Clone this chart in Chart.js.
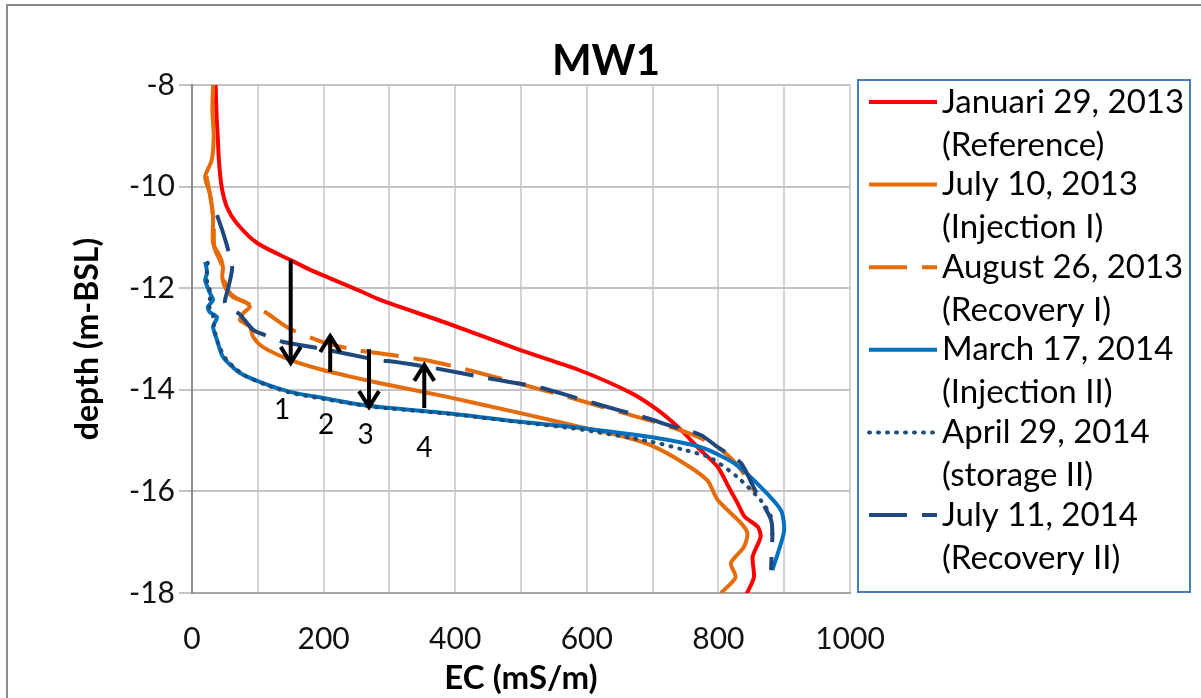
<!DOCTYPE html>
<html>
<head>
<meta charset="utf-8">
<script src="https://cdn.jsdelivr.net/npm/chart.js@4.4.1/dist/chart.umd.min.js"></script>
<style>
  html, body { margin: 0; padding: 0; background: #ffffff; overflow: hidden; }
  #wrap { width: 1201px; height: 698px; }
</style>
</head>
<body>
<div id="wrap"><canvas id="c" width="1201" height="698"></canvas></div>
<script>
// ---------- DATA ----------
const chartTitle = "MW1";
const xAxisTitle = "EC (mS/m)";
const yAxisTitle = "depth (m-BSL)";
const xTickLabels = [0, 200, 400, 600, 800, 1000];
const yTickLabels = [-8, -10, -12, -14, -16, -18];

const seriesNames = [
  ["Januari 29, 2013", "(Reference)"],
  ["July 10, 2013", "(Injection I)"],
  ["August 26, 2013", "(Recovery I)"],
  ["March 17, 2014", "(Injection II)"],
  ["April 29, 2014", "(storage II)"],
  ["July 11, 2014", "(Recovery II)"]
];

// Januari 29, 2013 (Reference)
const ecJan13 = [36, 37, 39, 41, 45, 53, 68, 99, 149, 180, 251, 286, 388, 499, 590, 667, 708, 740, 770, 799, 815, 829, 840, 860, 864, 852, 854, 842];
const depthJan13 = [-8, -8.5, -9, -9.5, -10, -10.4, -10.72, -11.11, -11.44, -11.64, -12.03, -12.23, -12.69, -13.22, -13.62, -14.06, -14.4, -14.75, -15.15, -15.52, -15.9, -16.23, -16.5, -16.7, -16.9, -17.29, -17.69, -18.04];

// July 10, 2013 (Injection I)
const ecJul13 = [32, 31, 33, 30, 20, 27, 32, 32, 43, 47, 46, 50, 62, 81, 88, 78, 73, 88, 93, 108, 149, 199, 251, 286, 388, 499, 590, 650, 697, 747, 783, 799, 834, 844, 839, 819, 826, 804];
const depthJul13 = [-8, -8.5, -9, -9.48, -9.81, -10.13, -10.6, -11.11, -11.39, -11.58, -11.78, -11.98, -12.17, -12.27, -12.37, -12.49, -12.63, -12.76, -12.96, -13.16, -13.41, -13.61, -13.77, -13.87, -14.14, -14.46, -14.73, -14.9, -15.09, -15.44, -15.78, -16.17, -16.62, -16.82, -17.09, -17.41, -17.69, -18.0];

// August 26, 2013 (Recovery I)
const ecAug13 = [22, 28, 33, 34, 44, 48, 55, 68, 88, 111, 149, 199, 251, 301, 352, 408, 489, 571, 651, 708, 760, 799, 830, 855];
const depthAug13 = [-9.8, -10.2, -10.7, -11.2, -11.5, -11.8, -12.05, -12.2, -12.32, -12.47, -12.8, -13.06, -13.22, -13.31, -13.41, -13.57, -13.85, -14.14, -14.44, -14.65, -14.88, -15.13, -15.5, -16.0];

// March 17, 2014 (Injection II)
const ecMar14 = [20, 23, 20, 27, 32, 24, 27, 38, 32, 38, 47, 73, 108, 149, 199, 260, 301, 388, 499, 590, 697, 773, 823, 864, 895, 900, 892, 882];
const depthMar14 = [-11.48, -11.7, -11.84, -12.09, -12.23, -12.37, -12.47, -12.57, -12.76, -13.02, -13.35, -13.67, -13.87, -14.04, -14.16, -14.3, -14.36, -14.46, -14.63, -14.75, -14.93, -15.13, -15.44, -15.91, -16.37, -16.76, -17.15, -17.55];

// April 29, 2014 (storage II)
const ecApr14 = [24, 22, 28, 26, 32, 34, 40, 52, 78, 112, 150, 200, 260, 301, 388, 499, 590, 697, 747, 788, 829, 864, 880, 882];
const depthApr14 = [-11.5, -11.8, -12.1, -12.35, -12.55, -12.8, -13.1, -13.4, -13.7, -13.9, -14.06, -14.18, -14.31, -14.37, -14.47, -14.64, -14.78, -15.02, -15.18, -15.34, -15.72, -16.17, -16.5, -16.85];

// July 11, 2014 (Recovery II)
const ecJul14 = [38, 47, 55, 61, 55, 50, 62, 73, 93, 119, 139, 200, 281, 309, 367, 449, 530, 610, 692, 723, 773, 799, 834, 854, 870, 880, 882, 881, 880];
const depthJul14 = [-10.56, -10.9, -11.25, -11.6, -12.0, -12.29, -12.42, -12.52, -12.82, -12.96, -13.06, -13.2, -13.41, -13.45, -13.57, -13.77, -13.96, -14.26, -14.56, -14.69, -14.89, -15.13, -15.44, -15.93, -16.3, -16.56, -16.82, -17.2, -17.55];

// Annotations: arrows (EC position, tail depth, head depth) and numbered labels
const arrowEC = [150, 210, 269, 353];
const arrowTail = [-11.44, -13.65, -13.2, -14.36];
const arrowHead = [-13.47, -12.94, -14.34, -13.51];
const noteText = ["1", "2", "3", "4"];
const noteEC = [137, 204, 264, 353];
const noteDepth = [-14.4, -14.69, -14.89, -15.15];

// ---------- BUILD ----------
const FONT = "Lato, 'Open Sans', 'Liberation Sans', sans-serif";
function pts(xs, ys) { return xs.map((x, i) => ({ x: x, y: ys[i] })); }

const styles = [
  { color: '#FF0000', dash: [], width: 4, cap: 'butt' },
  { color: '#E46C0A', dash: [], width: 4, cap: 'butt' },
  { color: '#E46C0A', dash: [38, 15], width: 4, cap: 'butt' },
  { color: '#0070C0', dash: [], width: 4, cap: 'butt' },
  { color: '#1F4E79', dash: [1, 8], width: 4, cap: 'round' },
  { color: '#1F497D', dash: [38, 15], width: 4, cap: 'butt' }
];
const seriesData = [
  pts(ecJan13, depthJan13), pts(ecJul13, depthJul13), pts(ecAug13, depthAug13),
  pts(ecMar14, depthMar14), pts(ecApr14, depthApr14), pts(ecJul14, depthJul14)
];

const datasets = seriesData.map((d, i) => ({
  label: seriesNames[i].join(' '),
  data: d,
  showLine: true,
  borderColor: styles[i].color,
  backgroundColor: styles[i].color,
  borderWidth: styles[i].width,
  borderDash: styles[i].dash,
  borderCapStyle: styles[i].cap,
  pointRadius: 0,
  pointHoverRadius: 0,
  tension: 0.25,
  fill: false,
  order: seriesData.length - i
}));

const framePlugin = {
  id: 'frame',
  beforeDraw(chart) {
    const ctx = chart.ctx;
    ctx.save();
    ctx.fillStyle = '#ffffff';
    ctx.fillRect(0, 0, chart.width, chart.height);
    ctx.strokeStyle = '#8c8c8c';
    ctx.lineWidth = 2;
    ctx.beginPath();
    ctx.moveTo(7, chart.height + 5);
    ctx.lineTo(7, 5);
    ctx.lineTo(chart.width + 5, 5);
    ctx.stroke();
    // title
    ctx.fillStyle = '#000000';
    ctx.font = "bold 42px " + FONT;
    ctx.textAlign = 'center';
    ctx.textBaseline = 'middle';
    ctx.fillText(chartTitle, 606, 61);
    ctx.restore();
  }
};

const notesPlugin = {
  id: 'notes',
  afterDatasetsDraw(chart) {
    const ctx = chart.ctx;
    const xs = chart.scales.x, ys = chart.scales.y;
    ctx.save();
    ctx.strokeStyle = '#000000';
    ctx.lineWidth = 4;
    ctx.lineCap = 'butt';
    ctx.lineJoin = 'miter';
    for (let i = 0; i < arrowEC.length; i++) {
      const px = xs.getPixelForValue(arrowEC[i]);
      const y0 = ys.getPixelForValue(arrowTail[i]);
      const y1 = ys.getPixelForValue(arrowHead[i]);
      const dir = y1 > y0 ? 1 : -1;
      ctx.beginPath();
      ctx.moveTo(px, y0);
      ctx.lineTo(px, y1);
      ctx.stroke();
      ctx.beginPath();
      ctx.moveTo(px - 10, y1 - dir * 16);
      ctx.lineTo(px, y1);
      ctx.lineTo(px + 10, y1 - dir * 16);
      ctx.stroke();
    }
    ctx.fillStyle = '#000000';
    ctx.font = "28px " + FONT;
    ctx.textAlign = 'center';
    ctx.textBaseline = 'middle';
    for (let i = 0; i < noteText.length; i++) {
      ctx.fillText(noteText[i], xs.getPixelForValue(noteEC[i]), ys.getPixelForValue(noteDepth[i]));
    }
    ctx.restore();
  }
};

const legendPlugin = {
  id: 'customLegend',
  afterDraw(chart) {
    const ctx = chart.ctx;
    ctx.save();
    ctx.strokeStyle = '#4A7EBB';
    ctx.lineWidth = 2;
    ctx.strokeRect(858, 80, 332, 512);
    const ds = chart.data.datasets;
    for (let i = 0; i < ds.length; i++) {
      const y = 102 + i * 82.6;
      ctx.strokeStyle = ds[i].borderColor;
      ctx.lineWidth = ds[i].borderWidth;
      ctx.lineCap = ds[i].borderCapStyle || 'butt';
      ctx.setLineDash(ds[i].borderDash || []);
      ctx.beginPath();
      ctx.moveTo(869, y);
      ctx.lineTo(937, y);
      ctx.stroke();
      ctx.setLineDash([]);
      ctx.fillStyle = '#000000';
      ctx.font = "33px " + FONT;
      ctx.textAlign = 'left';
      ctx.textBaseline = 'middle';
      ctx.fillText(seriesNames[i][0], 942, y);
      ctx.fillText(seriesNames[i][1], 942, y + 43);
    }
    ctx.restore();
  }
};

new Chart(document.getElementById('c'), {
  type: 'scatter',
  data: { datasets: datasets },
  plugins: [framePlugin, notesPlugin, legendPlugin],
  options: {
    responsive: false,
    animation: false,
    devicePixelRatio: 1,
    layout: { padding: { left: 68, top: 85, right: 351, bottom: 0 } },
    plugins: { legend: { display: false }, title: { display: false }, tooltip: { enabled: false } },
    scales: {
      x: {
        type: 'linear',
        min: 0, max: 1000,
        afterFit(s) { s.height = 105; },
        ticks: {
          stepSize: 100,
          autoSkip: false,
          maxRotation: 0,
          padding: 28,
          color: '#111111',
          font: { family: FONT, size: 30 },
          callback(v) { return xTickLabels.includes(v) ? String(v) : ''; }
        },
        grid: { color: '#d4d4d4', lineWidth: 2, drawTicks: false },
        border: { color: '#a6a6a6', width: 2 },
        title: { display: true, text: xAxisTitle, color: '#000', font: { family: FONT, size: 33, weight: 'bold' }, padding: { top: 0, bottom: 0 } }
      },
      y: {
        type: 'linear',
        min: -18, max: -8,
        afterFit(s) { s.width = 124; },
        ticks: {
          stepSize: 2,
          padding: 4,
          color: '#111111',
          font: { family: FONT, size: 30 },
          callback(v) { return yTickLabels.includes(v) ? String(v) : ''; }
        },
        grid: { color: '#c4c4c4', lineWidth: 2, tickLength: 13, drawTicks: true },
        border: { color: '#8c8c8c', width: 2 },
        title: { display: true, text: yAxisTitle, color: '#000', font: { family: FONT, size: 32, weight: 'bold' }, padding: { top: 0, bottom: 0 } }
      }
    }
  }
});
</script>
</body>
</html>
